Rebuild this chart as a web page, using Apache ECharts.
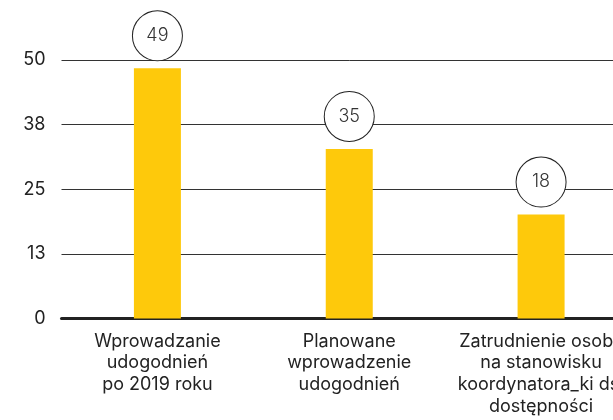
<!DOCTYPE html>
<html>
<head>
<meta charset="utf-8">
<script src="https://cdn.jsdelivr.net/npm/echarts@6/dist/echarts.min.js"></script>
<style>
  html, body { margin: 0; padding: 0; background: #fff; overflow: hidden; width: 613px; height: 420px; }
  /* canvas is wider than the window so the last column gets cut off like in the original */
  #chart { width: 637px; height: 420px; }
</style>
</head>
<body>
<div id="chart"></div>
<script>
// categories and values
var categories = [
  'Wprowadzanie\nudogodnień\npo 2019 roku',
  'Planowane\nwprowadzenie\nudogodnień',
  'Zatrudnienie osoby\nna stanowisku\nkoordynatora_ki ds.\ndostępności'
];
var barValues = [48.4, 32.8, 20.1];
var circleLabels = ['49', '35', '18'];
var yTicks = { min: 0, max: 50, interval: 12.5 };

var font = 'Inter, "Noto Sans", sans-serif';
var chart = echarts.init(document.getElementById('chart'));

var option = {
  animation: false,
  backgroundColor: '#fff',
  grid: { left: 61.5, right: 0, top: 60, bottom: 101.5, containLabel: false },
  xAxis: {
    type: 'category',
    data: categories,
    axisTick: { show: false },
    axisLine: { lineStyle: { color: '#222', width: 3 } },
    axisLabel: {
      interval: 0,
      margin: 12,
      color: '#222',
      fontFamily: font,
      fontSize: 18,
      lineHeight: 21.6
    }
  },
  yAxis: {
    type: 'value',
    min: yTicks.min,
    max: yTicks.max,
    interval: yTicks.interval,
    axisLine: { show: false },
    axisTick: { show: false },
    splitLine: { lineStyle: { color: '#333', width: 1 } },
    axisLabel: {
      margin: 16,
      color: '#222',
      fontFamily: font,
      fontSize: 18,
      padding: [0, 0, 7, 0],
      formatter: function (v) { return Math.round(v); }
    }
  },
  series: [
    {
      type: 'bar',
      data: barValues,
      barWidth: 47,
      itemStyle: { color: '#fec90b' },
      label: {
        show: true,
        position: 'top',
        distance: 8,
        formatter: function (p) { return circleLabels[p.dataIndex]; },
        color: '#333',
        fontFamily: font,
        fontSize: 18,
        fontWeight: 300,
        backgroundColor: '#fff',
        borderColor: '#222',
        borderWidth: 1,
        borderRadius: 25,
        width: 49,
        height: 49,
        lineHeight: 49,
        align: 'center',
        padding: 0
      }
    }
  ]
};

chart.setOption(option);
</script>
</body>
</html>
